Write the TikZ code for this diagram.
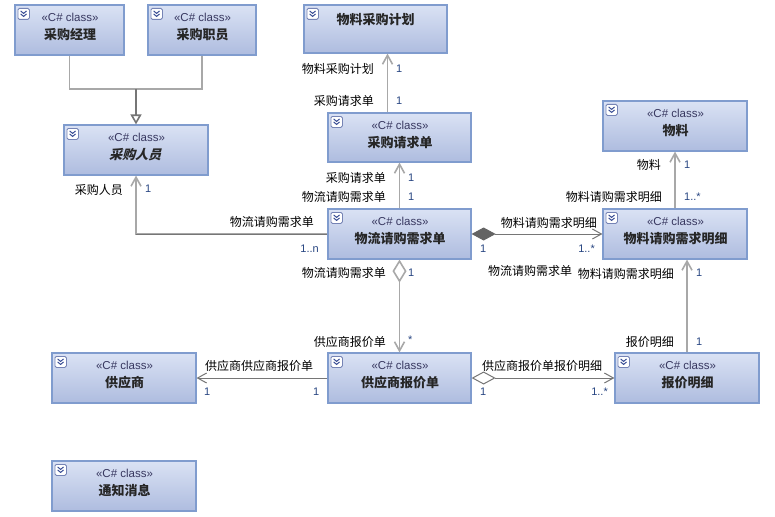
\documentclass[tikz,border=0pt]{standalone}
\usepackage{fontspec}
\setmainfont{Noto Sans CJK SC}
\newfontfamily\latf{Liberation Sans}
\usetikzlibrary{arrows.meta,fit,calc}
\definecolor{boxtop}{RGB}{218,226,244}
\definecolor{boxbot}{RGB}{174,188,223}
\definecolor{boxline}{RGB}{128,156,206}
\definecolor{lineh}{RGB}{118,118,118}
\definecolor{linev}{RGB}{168,168,168}
\definecolor{dgray}{RGB}{100,100,100}
\definecolor{stereoc}{RGB}{55,55,95}
\definecolor{multc}{RGB}{40,70,130}
\definecolor{iconc}{RGB}{60,80,150}
\newcommand\clsicon[1]{%
  \draw[draw=iconc!70, fill=white, rounded corners=1.5pt, line width=0.8pt] ($(#1.north west)+(3.5,4)$) rectangle ++(11.5,11);
  \draw[iconc, line width=1pt] ($(#1.north west)+(6.2,6.5)$) -- ++(3,2.5) -- ++(3,-2.5);
  \draw[iconc, line width=1pt] ($(#1.north west)+(6.2,9.5)$) -- ++(3,2.5) -- ++(3,-2.5);}
\newcommand\clsframe[5]{%
  \node[cls, fit={(#2,#3)(#4,#5)}] (#1) {};
  \node[stereo] at ($(#1.north)+(0.5,13)$) {«C\# class»};
  \clsicon{#1}}
\newcommand\clsbox[6]{%
  \clsframe{#1}{#2}{#3}{#4}{#5}
  \node[ttl] at ($(#1.north)+(0.5,30)$) {#6};}
\tikzset{
  cls/.style={draw=boxline, line width=1.2pt, top color=boxtop, bottom color=boxbot, inner sep=0pt},
  stereo/.style={font=\latf\fontsize{11.5}{13}\selectfont, text=stereoc, inner sep=0pt},
  ttl/.style={font=\bfseries\fontsize{13}{15}\selectfont, text=black!85, inner sep=0pt},
  lbl/.style={font=\fontsize{12}{14}\selectfont, text=black, inner sep=0pt},
  mult/.style={font=\latf\fontsize{11}{13}\selectfont, text=multc, inner sep=0pt},
  hconn/.style={draw=lineh, line width=1pt},
  vconn/.style={draw=linev, line width=1.6pt},
  >={Straight Barb[length=9pt,width=10pt]},
}
\begin{document}
\begin{tikzpicture}[x=1pt,y=-1pt]
\fill[white] (0,0) rectangle (775,516);
\useasboundingbox (0,0) rectangle (775,516);

% classes
\clsbox{jl}{15}{5}{124}{55}{采购经理}
\clsbox{zy}{148}{5}{256}{55}{采购职员}
\node[cls, fit={(304,5)(447,53)}] (jh) {};
\node[ttl] at ($(jh.north)+(0,15)$) {物料采购计划};
\clsicon{jh}
\clsframe{ry}{64}{125}{208}{175}
\node[ttl, xslant=0.28, transform shape] at ($(ry.north)+(0.5,30)$) {采购人员};
\clsbox{cq}{328}{113}{471}{162}{采购请求单}
\clsbox{wl}{603}{101}{747}{151}{物料}
\clsbox{mx}{603}{209}{747}{259}{物料请购需求明细}
\clsbox{xq}{328}{209}{471}{259}{物流请购需求单}
\clsbox{bj}{328}{353}{471}{403}{供应商报价单}
\clsbox{bm}{615}{353}{759}{403}{报价明细}
\clsbox{gy}{52}{353}{196}{403}{供应商}
\clsbox{tz}{52}{461}{196}{511}{通知消息}

% generalization
\coordinate (gj) at (136,89);
\draw[vconn] (jl.south) |- (gj) -| (zy.south);
\draw[draw=lineh, line width=1.6pt, -{Triangle[open,fill=white,length=10pt,width=11pt]}] (gj) -- (ry.north);

% associations
\draw[vconn, ->] (xq.west) -| (ry.south);
\draw[hconn] (xq.west) -- (xq.west -| ry.south);
\draw[vconn, ->] ([xshift=-12pt]cq.north) -- ([xshift=-12pt]cq.north |- jh.south);
\draw[vconn, ->] (xq.north) -- (cq.south);
\draw[hconn, {Diamond[length=24pt,width=13pt,fill=dgray,color=dgray]}->] (xq.east) -- (mx.west);
\draw[vconn, ->] (mx.north) -- (wl.south);
\draw[vconn, {Diamond[open,length=23pt,width=14pt,fill=white]}->] (xq.south) -- (bj.north);
\draw[vconn, ->] (bm.north) -- (bm.north |- mx.south);
\draw[hconn, ->] (bj.west) -- (gy.east);
\draw[hconn, {Diamond[open,length=24pt,width=13pt,fill=white]}->] (bj.east) -- (bm.west);

% labels
\node[lbl, anchor=east] (l1) at (123,190) {采购人员};
\node[mult, anchor=west] (m1) at (145,189) {1};
\node[lbl, anchor=east] (l2) at (314,222) {物流请购需求单};
\node[mult, anchor=east] (m2) at (319,249) {1..n};

\node[lbl, anchor=east] (l3) at (374,69) {物料采购计划};
\node[mult, anchor=west] (m3) at (396,69) {1};
\node[lbl, anchor=east] (l4) at (374,101) {采购请求单};
\node[mult, anchor=west] (m4) at (396,101) {1};

\node[lbl, anchor=east] (l5) at (386,178) {采购请求单};
\node[mult, anchor=west] (m5) at (408,178) {1};
\node[lbl, anchor=east] (l6) at (386,197) {物流请购需求单};
\node[mult, anchor=west] (m6) at (408,197) {1};

\node[lbl, anchor=east] (l7) at (597,223) {物料请购需求明细};
\node[mult, anchor=west] (m7) at (480,249) {1};
\node[mult, anchor=east] (m8) at (595,249) {1..*};
\node[lbl, anchor=west] (l8) at (488,271) {物流请购需求单};

\node[lbl, anchor=east] (l9) at (661,165) {物料};
\node[mult, anchor=west] (m9) at (684,165) {1};
\node[lbl, anchor=east] (l10) at (662,197) {物料请购需求明细};
\node[mult, anchor=west] (m10) at (684,197) {1..*};

\node[lbl, anchor=east] (l11) at (386,273) {物流请购需求单};
\node[mult, anchor=west] (m11) at (408,273) {1};
\node[lbl, anchor=east] (l12) at (386,342) {供应商报价单};
\node[mult, anchor=west] (m12) at (408,340) {*};

\node[lbl, anchor=east] (l13) at (674,274) {物料请购需求明细};
\node[mult, anchor=west] (m13) at (696,273) {1};
\node[lbl, anchor=east] (l14) at (674,342) {报价明细};
\node[mult, anchor=west] (m14) at (696,342) {1};

\node[lbl, anchor=west] (l15) at (205,366) {供应商供应商报价单};
\node[mult, anchor=west] (m15) at (204,392) {1};
\node[mult, anchor=west] (m16) at (313,392) {1};

\node[lbl, anchor=west] (l16) at (482,366) {供应商报价单报价明细};
\node[mult, anchor=west] (m17) at (480,392) {1};
\node[mult, anchor=east] (m18) at (608,392) {1..*};
\end{tikzpicture}
\end{document}
